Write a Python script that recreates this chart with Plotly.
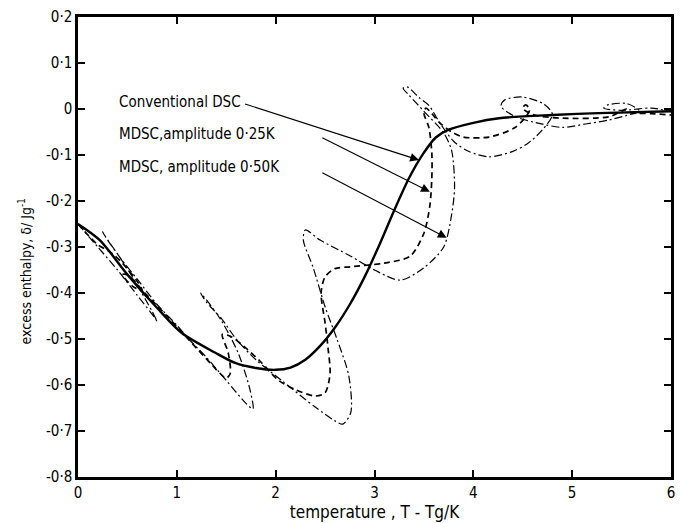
import plotly.graph_objects as go

# Conventional DSC (solid)
conv_x = [0, 0.22, 0.5, 0.82, 1.05, 1.39, 1.59, 1.8, 2.0, 2.15, 2.3, 2.45, 2.6, 2.75, 2.9, 3.05, 3.2, 3.35, 3.5, 3.62, 3.75, 4.0, 4.26, 4.8, 5.27, 6.0]
conv_y = [-0.25, -0.285, -0.36, -0.437, -0.487, -0.53, -0.552, -0.563, -0.567, -0.562, -0.545, -0.515, -0.475, -0.425, -0.365, -0.295, -0.22, -0.15, -0.095, -0.062, -0.045, -0.03, -0.02, -0.013, -0.009, -0.005]

# MDSC amplitude 0.25 K (dashed)
m25_x = [0.00, 0.20, 0.32, 0.45, 0.60, 0.65, 0.55, 0.45, 0.50, 0.70, 0.90, 1.05, 1.20, 1.35, 1.50, 1.54, 1.52, 1.46,
         1.55, 1.70, 1.85, 2.03, 2.20, 2.40, 2.50, 2.55, 2.53, 2.50, 2.46, 2.50, 2.60, 2.76, 3.10, 3.36, 3.50, 3.56,
         3.58, 3.58, 3.55, 3.50, 3.52, 3.58, 3.66, 3.78, 3.90, 4.16, 4.43, 4.57, 4.53, 4.50, 4.60, 4.90, 5.37, 5.50,
         5.55, 5.60, 5.80, 6.00]
m25_y = [-0.250, -0.295, -0.310, -0.335, -0.375, -0.395, -0.385, -0.360, -0.360, -0.405, -0.450, -0.485, -0.520,
         -0.555, -0.585, -0.575, -0.530, -0.490, -0.495, -0.520, -0.550, -0.590, -0.610, -0.624, -0.617, -0.575,
         -0.520, -0.465, -0.400, -0.365, -0.347, -0.343, -0.335, -0.320, -0.270, -0.210, -0.150, -0.096, -0.040,
         -0.009, 0.002, -0.010, -0.030, -0.050, -0.061, -0.061, -0.039, -0.002, 0.009, 0.002, -0.012, -0.020,
         -0.017, -0.005, 0.000, -0.008, -0.010, -0.013]

# MDSC amplitude 0.50 K (dash-dot)
m50_x = [0.00, 0.20, 0.40, 0.60, 0.78, 0.80, 0.75, 0.55, 0.40, 0.27, 0.25, 0.30, 0.45, 0.60, 0.80, 1.00, 1.12,
         1.30, 1.50, 1.70, 1.77, 1.74, 1.62, 1.45, 1.30, 1.24, 1.30, 1.45, 1.60, 1.80, 2.06, 2.40, 2.60, 2.68,
         2.76, 2.74, 2.62, 2.50, 2.38, 2.28, 2.30, 2.45, 2.76, 3.00, 3.26, 3.50, 3.70, 3.78, 3.81, 3.78, 3.70,
         3.50, 3.35, 3.29, 3.33, 3.45, 3.55, 3.66, 3.80, 3.95, 4.16, 4.40, 4.55, 4.70, 4.80, 4.72, 4.50, 4.32,
         4.28, 4.43, 4.70, 4.90, 5.15, 5.37, 5.55, 5.68, 5.55, 5.35, 5.32, 5.50, 5.80, 6.00]
m50_y = [-0.250, -0.300, -0.350, -0.405, -0.455, -0.462, -0.440, -0.365, -0.315, -0.275, -0.267, -0.285, -0.330,
         -0.370, -0.425, -0.470, -0.500, -0.540, -0.590, -0.640, -0.652, -0.610, -0.530, -0.460, -0.415, -0.400,
         -0.420, -0.455, -0.500, -0.545, -0.590, -0.648, -0.678, -0.685, -0.660, -0.580, -0.500, -0.430, -0.345,
         -0.285, -0.263, -0.285, -0.320, -0.350, -0.372, -0.345, -0.300, -0.230, -0.170, -0.090, -0.052, -0.005,
         0.030, 0.045, 0.048, 0.025, 0.008, -0.030, -0.070, -0.092, -0.104, -0.092, -0.075, -0.045, -0.012,
         0.010, 0.026, 0.020, 0.006, -0.017, -0.033, -0.040, -0.032, -0.024, -0.014, -0.004, 0.012, 0.008,
         0.002, -0.003, 0.002, -0.006]

y_ticks = [0.2, 0.1, 0, -0.1, -0.2, -0.3, -0.4, -0.5, -0.6, -0.7, -0.8]
y_labels = ["0·2", "0·1", "0", "-0·1", "-0·2", "-0·3", "-0·4", "-0·5", "-0·6", "-0·7", "-0·8"]
x_ticks = [0, 1, 2, 3, 4, 5, 6]
x_labels = ["0", "1", "2", "3", "4", "5", "6"]

labels = ["Conventional DSC", "MDSC,amplitude 0·25K", "MDSC, amplitude 0·50K"]
label_y = [0.015, -0.054, -0.126]
arrow_tail = [(1.675, 0.012), (2.457, -0.061), (2.457, -0.137)]
arrow_tip = [(3.45, -0.111), (3.56, -0.180), (3.73, -0.280)]

FONT = "DejaVu Sans Condensed, Liberation Sans Narrow, Arial Narrow, sans-serif"

fig = go.Figure()
fig.add_trace(go.Scatter(x=m50_x, y=m50_y, mode="lines",
                         line=dict(color="black", width=1.2, dash="8px,3px,2px,3px", shape="spline", smoothing=0.8)))
fig.add_trace(go.Scatter(x=m25_x, y=m25_y, mode="lines",
                         line=dict(color="black", width=1.7, dash="6px,4px", shape="spline", smoothing=0.8)))
fig.add_trace(go.Scatter(x=conv_x, y=conv_y, mode="lines",
                         line=dict(color="black", width=2.4, shape="spline", smoothing=0.8)))

for txt, ly in zip(labels, label_y):
    fig.add_annotation(x=0.391, y=ly, text=txt, showarrow=False, xanchor="left", yanchor="middle",
                       font=dict(size=15, color="black", family=FONT))
for (tx, ty), (hx, hy) in zip(arrow_tail, arrow_tip):
    fig.add_annotation(x=hx, y=hy, ax=tx, ay=ty, axref="x", ayref="y", text="", showarrow=True,
                       arrowhead=2, arrowsize=1.6, arrowwidth=1.1, arrowcolor="black")

# y-axis title placed as rotated text
fig.add_annotation(xref="paper", yref="paper", x=-0.09, y=0.446, text="excess enthalpy, δ/ Jg<sup>-1</sup>",
                   showarrow=False, textangle=-90, xanchor="center", yanchor="middle",
                   font=dict(size=14, color="black", family=FONT))

axis_common = dict(showline=True, linecolor="black", linewidth=2.5, mirror="ticks", ticks="inside",
                   ticklen=7, tickwidth=1.5, tickcolor="black", showgrid=False, zeroline=False,
                   tickfont=dict(size=15, color="black", family=FONT))

fig.update_layout(
    width=680, height=523,
    margin=dict(l=78, r=5, t=17, b=46),
    paper_bgcolor="white", plot_bgcolor="white",
    showlegend=False,
    font=dict(family=FONT, color="black"),
    xaxis=dict(range=[0, 6], tickvals=x_ticks, ticktext=x_labels,
               title=dict(text="temperature , T - Tg/K", font=dict(size=17, family=FONT), standoff=2),
               **axis_common),
    yaxis=dict(range=[-0.8, 0.2], tickvals=y_ticks, ticktext=y_labels, **axis_common),
)

fig.write_html("out.html")
